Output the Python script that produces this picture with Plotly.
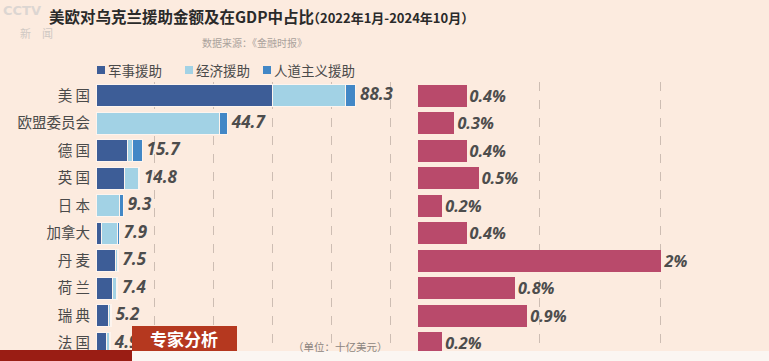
import plotly.graph_objects as go

# ---------------- data ----------------
countries = ["美 国", "欧盟委员会", "德 国", "英 国", "日 本", "加拿大", "丹 麦", "荷 兰", "瑞 典", "法 国"]
series_names = ["军事援助", "经济援助", "人道主义援助"]
military = [60.0, None, 10.6, 9.7, None, 2.0, 6.8, 5.7, 4.2, 3.6]
economic = [24.7, 41.9, 1.7, 4.6, 7.9, 5.4, 0.4, 1.3, 0.6, 0.9]
humanitarian = [3.6, 2.8, 3.4, 0.5, 1.4, 0.5, 0.3, 0.4, 0.4, 0.4]
totals = [88.3, 44.7, 15.7, 14.8, 9.3, 7.9, 7.5, 7.4, 5.2, 4.9]
gdp_share = [0.4, 0.3, 0.4, 0.5, 0.2, 0.4, 2, 0.8, 0.9, 0.2]

title_main = "美欧对乌克兰援助金额及在GDP中占比"
title_period = "（2022年1月-2024年10月）"
source_text = "数据来源：《金融时报》"
unit_text = "（单位：十亿美元）"
badge_text = "专家分析"

# ---------------- style ----------------
W, H = 769, 361
TOP, BOTTOM = 82, 357
BG = "#fcebdf"
colors = ["#3d5d97", "#a2d2e5", "#4287c6"]
gdp_color = "#b94a6b"
label_color = "#4d4d4d"
CJK = "Noto Sans CJK SC"


def px(x):
    return x / W


def py(y):
    return (BOTTOM - y) / (BOTTOM - TOP)


fig = go.Figure()

for name, vals, col in zip(series_names, [military, economic, humanitarian], colors):
    fig.add_trace(go.Bar(
        y=countries, x=vals, name=name, orientation="h",
        marker=dict(color=col, line=dict(color="#fdf4ee", width=1)),
        xaxis="x", yaxis="y", showlegend=False, hoverinfo="x+name",
    ))

fig.add_trace(go.Scatter(
    y=countries, x=totals, mode="text",
    text=[f" {v:g}" for v in totals], textposition="middle right",
    textfont=dict(family="Open Sans", size=17, color=label_color, weight="bold", style="italic"),
    xaxis="x", yaxis="y", showlegend=False, cliponaxis=False, hoverinfo="skip",
))

fig.add_trace(go.Bar(
    y=countries, x=gdp_share, orientation="h",
    marker=dict(color=gdp_color, line=dict(width=0)),
    text=[f"{v:g}%" for v in gdp_share], textposition="outside",
    textfont=dict(family="Open Sans", size=17, color=label_color, weight="bold", style="italic"),
    cliponaxis=False, xaxis="x2", yaxis="y", showlegend=False,
))

grid = dict(showgrid=True, gridcolor="#cdbdb3", gridwidth=1, griddash="dash",
            showticklabels=False, zeroline=False, showline=False, ticks="")

fig.update_layout(
    width=W, height=H,
    margin=dict(l=0, r=0, t=TOP, b=H - BOTTOM),
    paper_bgcolor=BG, plot_bgcolor=BG,
    barmode="stack", bargap=0.2,
    xaxis=dict(domain=[px(96), px(400)], range=[0, 103.4], dtick=20, **grid),
    xaxis2=dict(domain=[px(418), 1.0], range=[0, 2.894], dtick=1, anchor="y", **grid),
    yaxis=dict(type="category", categoryorder="array", categoryarray=countries,
               autorange=False, range=[9.5, -0.5], showgrid=False, zeroline=False,
               ticks="", ticklabelstandoff=5,
               tickfont=dict(family=CJK, size=14.5, color="#4a4a4a")),
    font=dict(family=CJK),
)

ann = []
# title
ann.append(dict(x=px(47), y=py(16), xref="paper", yref="paper", xanchor="left", yanchor="middle",
                text=f"<b>{title_main}</b>", showarrow=False,
                font=dict(family=CJK, size=15.5, color="#2a2a2a")))
ann.append(dict(x=px(305), y=py(17), xref="paper", yref="paper", xanchor="left", yanchor="middle",
                text=f"<b>{title_period}</b>", showarrow=False,
                font=dict(family=CJK, size=13, color="#2a2a2a")))
ann.append(dict(x=px(254), y=py(43), xref="paper", yref="paper", xanchor="center", yanchor="middle",
                text=source_text, showarrow=False,
                font=dict(family=CJK, size=10, color="#aaa29c")))
# CCTV logo (faint)
ann.append(dict(x=px(1), y=py(10), xref="paper", yref="paper", xanchor="left", yanchor="middle",
                text="<b>CCTV</b>", showarrow=False,
                font=dict(family="DejaVu Sans", size=13, color="#dcd6d2")))
ann.append(dict(x=px(18), y=py(33), xref="paper", yref="paper", xanchor="left", yanchor="middle",
                text="新　闻", showarrow=False,
                font=dict(family=CJK, size=11, color="#cfc8c3")))

shapes = []
# legend
leg_sq = [97, 185, 263]
for name, col, x0 in zip(series_names, colors, leg_sq):
    shapes.append(dict(type="rect", xref="paper", yref="paper",
                       x0=px(x0), x1=px(x0 + 8), y0=py(74), y1=py(66),
                       fillcolor=col, line=dict(width=0)))
    ann.append(dict(x=px(x0 + 9), y=py(70), xref="paper", yref="paper", xanchor="left", yanchor="middle",
                    text=name, showarrow=False,
                    font=dict(family=CJK, size=13.5, color="#4a4a4a")))

# broadcast overlays
shapes.append(dict(type="rect", xref="paper", yref="paper", layer="above",
                   x0=px(132), x1=px(237), y0=py(351), y1=py(326),
                   fillcolor="#b5381f", line=dict(width=0)))
ann.append(dict(x=px(184), y=py(338), xref="paper", yref="paper", xanchor="center", yanchor="middle",
                text=f"<b>{badge_text}</b>", showarrow=False,
                font=dict(family=CJK, size=17, color="white")))
ann.append(dict(x=px(340), y=py(346), xref="paper", yref="paper", xanchor="center", yanchor="middle",
                text=unit_text, showarrow=False,
                font=dict(family=CJK, size=10.5, color="#8c8580")))
shapes.append(dict(type="rect", xref="paper", yref="paper", layer="above",
                   x0=px(130), x1=1, y0=py(361), y1=py(351),
                   fillcolor="#fbf6f2", line=dict(width=0)))
shapes.append(dict(type="rect", xref="paper", yref="paper", layer="above",
                   x0=0, x1=px(132), y0=py(361), y1=py(350),
                   fillcolor="#9a1d14", line=dict(width=0)))

fig.update_layout(annotations=ann, shapes=shapes)
fig.write_html(
    "out.html",
    config={"displayModeBar": False},
    post_script="document.body.style.margin='0';document.body.style.background='%s';" % BG,
)
